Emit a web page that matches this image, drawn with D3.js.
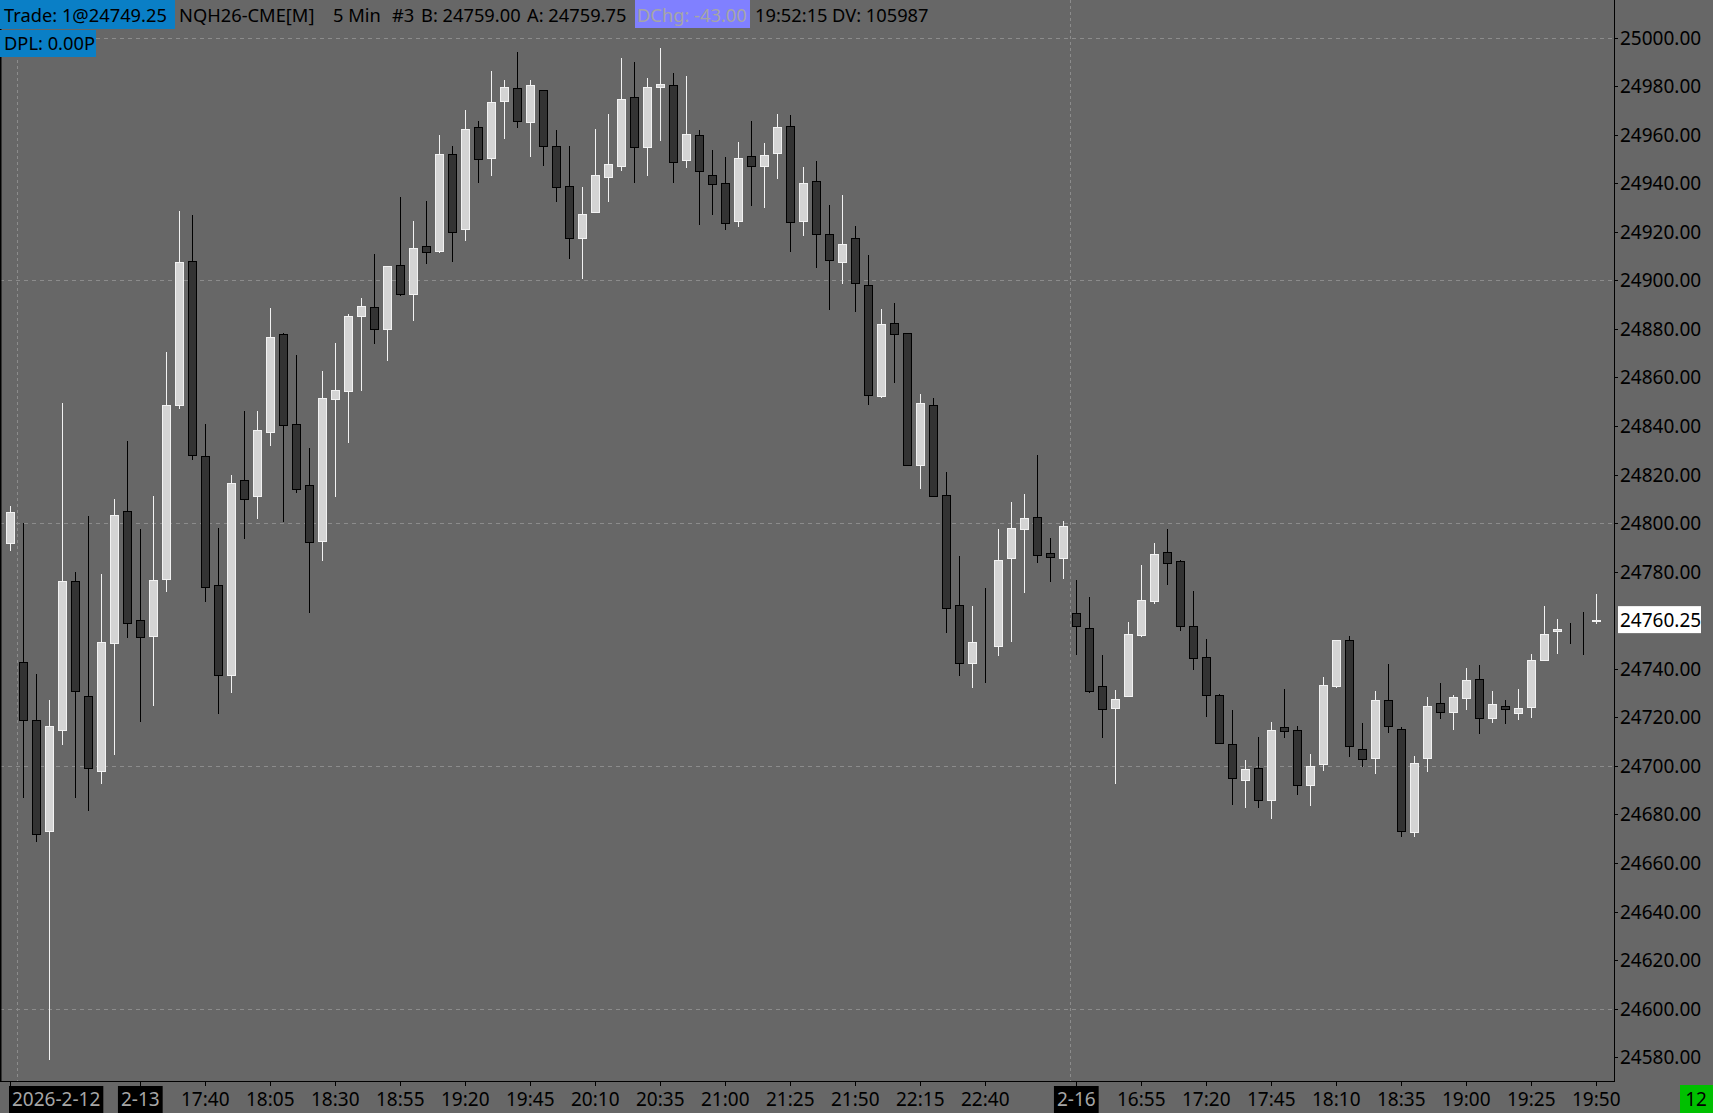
<!DOCTYPE html>
<html><head><meta charset="utf-8">
<script src="https://cdn.jsdelivr.net/npm/d3@7/dist/d3.min.js"></script>
<style>
html,body{margin:0;padding:0;background:#676767;overflow:hidden}
svg{display:block}
text{font-family:"Noto Sans",sans-serif;font-size:19px}
</style></head>
<body>
<svg id="c" width="1713" height="1113"></svg>
<script>
// ---- data (5 min bars, NQH26) ----
const opens = [24791.75,24743,24719,24673,24715,24776,24729,24698,24750.5,24805,24760,24753.5,24777,24848.5,24908,24827.5,24774.5,24737.5,24817.75,24811,
24837.5,24877.75,24840.75,24815.5,24792.5,24851,24854.25,24885.5,24889,24880,24906.25,24894.25,24914,24912,24952,24921,24963.25,24950.5,24974,24979,
24965.25,24978.5,24955.25,24938.75,24917.5,24928,24942.5,24947,24975.5,24954.75,24979.75,24980.5,24949.5,24959.75,24943.25,24940.25,24924.25,24951,24947.25,24952.25,
24963.5,24924.25,24940.75,24919,24907.5,24917.25,24898,24852.25,24882.25,24878.25,24824,24848.5,24811.5,24766.25,24742.25,24750.25,24749.25,24785.5,24797.75,24802.5,
24787.5,24785.5,24763,24756.75,24732.75,24723.75,24728.75,24754,24768,24788,24784.25,24757.75,24745,24729.25,24709,24694.25,24699.25,24686,24716,24715,
24692,24700.75,24732.75,24752,24707,24703.25,24727.25,24715.25,24672.75,24703.25,24726,24722.25,24728,24736,24719.75,24724.75,24721.75,24724.25,24743.75,24755.75,
24757.75,24758.75,24759.5];
const highs = [24807,24800,24738,24727,24849.5,24780,24803,24779,24810,24834,24797.5,24811,24870.5,24928.5,24927,24841,24798,24820,24846.25,24846,
24888.5,24878.25,24869.25,24831,24862.75,24874.25,24886,24892.75,24910.75,24906,24934.25,24924.5,24932.5,24960,24955.5,24970,24965.75,24986,24982.5,24994,
24982.5,24978.5,24961.75,24955.5,24938.5,24962.5,24968.5,24991.75,24989.75,24983.5,24995.5,24985.25,24984,24962,24953.5,24950.75,24957,24965.5,24956.5,24968.5,
24968,24946.5,24949,24931,24935,24922.5,24910.5,24888.25,24890.75,24878.5,24853,24851.5,24821,24786.5,24766,24773.25,24797.5,24808.5,24812,24828,
24794,24800.75,24776.5,24769.5,24745.75,24731.25,24759.25,24782.75,24792,24797.5,24784.75,24772,24752.25,24729.75,24723,24702.25,24711.75,24718,24731.5,24716.25,
24704.75,24736.5,24752,24753.5,24717.5,24730.75,24742,24716,24704.25,24728.5,24734,24729.25,24740.25,24741.5,24730.75,24727,24731.75,24746,24765.75,24760.5,
24758.75,24763.5,24770.75];
const lows = [24789,24687,24669,24579.5,24709,24687,24682,24693,24705,24753,24718.5,24725,24772,24847.5,24826.5,24768,24721.75,24730.5,24794,24802.25,
24832,24800.75,24813,24763.25,24785,24811,24833.5,24855,24874,24867,24894,24883.75,24907.25,24911.5,24907.75,24916.75,24940.5,24943.25,24958.5,24963,
24951,24947.5,24932.5,24909,24901,24928,24932.75,24945.25,24940.5,24943.25,24957.75,24940.5,24946.5,24923.25,24927.5,24921.25,24922.5,24931,24930.25,24942.25,
24912.25,24918.5,24905.5,24888.25,24899,24887.5,24849,24852,24858,24823.75,24814.5,24811,24755,24737.5,24732.5,24734.75,24745.5,24751.5,24771.75,24784,
24776.25,24777.25,24746.25,24730.25,24712,24693,24728.75,24753.5,24767.25,24775,24756,24740,24720.5,24709.5,24684.25,24683,24683,24678.75,24711.75,24688.25,
24683.75,24698.25,24732.5,24704,24700,24697,24714,24671,24671.25,24697.75,24719.75,24715.25,24723.25,24713.5,24718,24717.5,24719.25,24720,24743.5,24746.5,
24750.75,24746,24758.75];
const closes = [24804.75,24719,24672,24716.5,24776,24731,24699,24751,24803.5,24759,24753,24776.5,24848.75,24907.5,24828,24773.5,24737.5,24816.5,24810,24838.25,
24876.5,24840.25,24814,24792.25,24851.5,24854.75,24885.5,24889.25,24880,24905.75,24894.25,24913.25,24911.5,24952,24920,24962.5,24950,24973.5,24979.75,24965.75,
24980.25,24955.25,24938.25,24917.25,24927.25,24943.5,24948,24974.5,24954.75,24979.75,24981,24948.75,24960.25,24945,24939.5,24923.5,24950.5,24947,24951.5,24963,
24924,24940.25,24919,24908.25,24914.75,24898.75,24852.75,24882,24877.75,24824,24849.5,24811.25,24765,24742.5,24751,24750.25,24785,24798,24802,24787,
24786,24798.75,24757.5,24731,24723.25,24727.5,24754.25,24768.25,24787.25,24783.5,24757.75,24744.5,24729.25,24709.5,24695,24698.75,24686,24715,24714.5,24692,
24700,24733.5,24751.75,24708.25,24703,24727.25,24716.5,24673,24701.25,24724.5,24722.25,24728.5,24735.5,24719.75,24725.5,24723.5,24724,24743.5,24754.5,24756.5,
24757.75,24758.75,24760.25];
const sessionStarts = [1, 82];                 // first bar of each new session
const tickIndex = [0,10,15,20,25,30,35,40,45,50,55,60,65,70,75,82,87,92,97,102,107,112,117,122];
const tickLabels = ["2026-2-12","2-13","17:40","18:05","18:30","18:55","19:20","19:45","20:10","20:35","21:00","21:25","21:50","22:15","22:40","2-16","16:55","17:20","17:45","18:10","18:35","19:00","19:25","19:50"];
const dateTicks = ["2026-2-12","2-13","2-16"];
const priceTicks = [25000,24980,24960,24940,24920,24900,24880,24860,24840,24820,24800,24780,24740,24720,24700,24680,24660,24640,24620,24600,24580];
const gridPrices = [25000,24900,24800,24700,24600];
const lastPrice = 24760.25;

// ---- layout ----
const svg = d3.select("#c");
const W = 1713, H = 1113;
const plotRight = 1614, plotBottom = 1081;
const BG = "#676767";
svg.append("rect").attr("width",W).attr("height",H).attr("fill",BG);

const idx = d3.range(opens.length);
const x = d3.scaleLinear().domain([0, opens.length-1]).range([10.3, 1596.3]);
const y = d3.scaleLinear().domain([24580, 25000]).range([1057.3, 37.5]);

// grid
const g = svg.append("g");
g.selectAll("line.h").data(gridPrices).join("line")
  .attr("x1",0).attr("x2",plotRight)
  .attr("y1",d=>Math.round(y(d))+0.5).attr("y2",d=>Math.round(y(d))+0.5)
  .attr("stroke","#8c8c8c").attr("stroke-width",1).attr("stroke-dasharray","4,4");
g.selectAll("line.v").data(sessionStarts).join("line")
  .attr("x1",d=>Math.round((x(d)+x(d-1))/2)+0.5).attr("x2",d=>Math.round((x(d)+x(d-1))/2)+0.5)
  .attr("y1",0).attr("y2",plotBottom)
  .attr("stroke","#8c8c8c").attr("stroke-width",1).attr("stroke-dasharray","3,3");

// candles
const candles = svg.append("g");
const up = i => closes[i] > opens[i];
candles.selectAll("line.w").data(idx).join("line")
  .attr("x1",i=>Math.round(x(i))+0.5).attr("x2",i=>Math.round(x(i))+0.5)
  .attr("y1",i=>Math.round(y(highs[i]))).attr("y2",i=>Math.round(y(lows[i]))+1)
  .attr("stroke",i=>up(i)?"#f2f2f2":"#000").attr("stroke-width",1);
candles.selectAll("rect.b").data(idx).join("rect")
  .attr("x",i=>Math.round(x(i))-4+0.5)
  .attr("width",8)
  .attr("y",i=>Math.round(y(Math.max(opens[i],closes[i])))+0.5)
  .attr("height",i=>Math.max(0,Math.round(y(Math.min(opens[i],closes[i])))-Math.round(y(Math.max(opens[i],closes[i])))))
  .attr("fill",i=>up(i)?"#d4d4d4":"#333333")
  .attr("stroke",i=>up(i)?"#f2f2f2":"#000")
  .attr("stroke-width",1);

// borders / axes
svg.append("line").attr("x1",0.5).attr("x2",0.5).attr("y1",0).attr("y2",plotBottom).attr("stroke","#000").attr("stroke-width",2);
svg.append("line").attr("x1",plotRight+0.5).attr("x2",plotRight+0.5).attr("y1",0).attr("y2",plotBottom+1).attr("stroke","#000");
svg.append("line").attr("x1",0).attr("x2",plotRight+1).attr("y1",plotBottom+0.5).attr("y2",plotBottom+0.5).attr("stroke","#000");

// y axis
const ya = svg.append("g");
ya.selectAll("line").data(priceTicks).join("line")
  .attr("x1",plotRight).attr("x2",plotRight+4)
  .attr("y1",d=>Math.round(y(d))+0.5).attr("y2",d=>Math.round(y(d))+0.5).attr("stroke","#000");
ya.selectAll("text").data(priceTicks).join("text")
  .attr("x",plotRight+6).attr("y",d=>y(d)+7)
  .attr("fill","#000").text(d=>d3.format(".2f")(d));
// last price label
const lpY = y(lastPrice);
ya.append("rect").attr("x",plotRight+4).attr("y",lpY-13.5).attr("width",83).attr("height",27).attr("fill","#fff");
ya.append("text").attr("x",plotRight+6).attr("y",lpY+7).attr("fill","#000").text(d3.format(".2f")(lastPrice));

// x axis
const xa = svg.append("g");
xa.selectAll("line").data(tickIndex).join("line")
  .attr("x1",i=>Math.round(x(i))+0.5).attr("x2",i=>Math.round(x(i))+0.5)
  .attr("y1",plotBottom).attr("y2",plotBottom+5).attr("stroke","#000");
tickIndex.forEach((ti,k)=>{
  const lab = tickLabels[k];
  const isDate = dateTicks.includes(lab);
  const t = xa.append("text").attr("y",1106).attr("fill",isDate?"#a6a6a6":"#000").text(lab);
  const w = t.node().getComputedTextLength();
  let left = x(ti) - w/2;
  if (left < 12) left = 12;
  t.attr("x",left);
  if (isDate) {
    xa.insert("rect","text").attr("x",left-3).attr("y",1086).attr("width",w+6).attr("height",27).attr("fill","#000");
  }
});
// bar counter box
svg.append("rect").attr("x",1680).attr("y",1085).attr("width",33).attr("height",28).attr("fill","#00c000");
svg.append("text").attr("x",1696).attr("y",1106).attr("text-anchor","middle").attr("fill","#000").text("12");

// header
const hd = svg.append("g");
hd.append("rect").attr("x",0).attr("y",0).attr("width",175).attr("height",29).attr("fill","#0a7fc6");
hd.append("rect").attr("x",635).attr("y",0).attr("width",115).attr("height",28).attr("fill","#8080ff");
hd.append("rect").attr("x",0).attr("y",30).attr("width",96).attr("height",27).attr("fill","#0a7fc6");
const hdr = [
  [4,"Trade: 1@24749.25","#000"],
  [179,"NQH26-CME[M]","#000"],
  [333,"5 Min","#000"],
  [392,"#3","#000"],
  [421,"B: 24759.00","#000"],
  [527,"A: 24759.75","#000"],
  [637,"DChg: -43.00","#a6a6a6"],
  [755,"19:52:15","#000"],
  [832,"DV: 105987","#000"]
];
hdr.forEach(h=>hd.append("text").attr("x",h[0]).attr("y",22).attr("fill",h[2]).style("font-size","18.3px").text(h[1]));
hd.append("text").attr("x",4).attr("y",50).attr("fill","#000").style("font-size","18.3px").text("DPL: 0.00P");
</script>
</body></html>
